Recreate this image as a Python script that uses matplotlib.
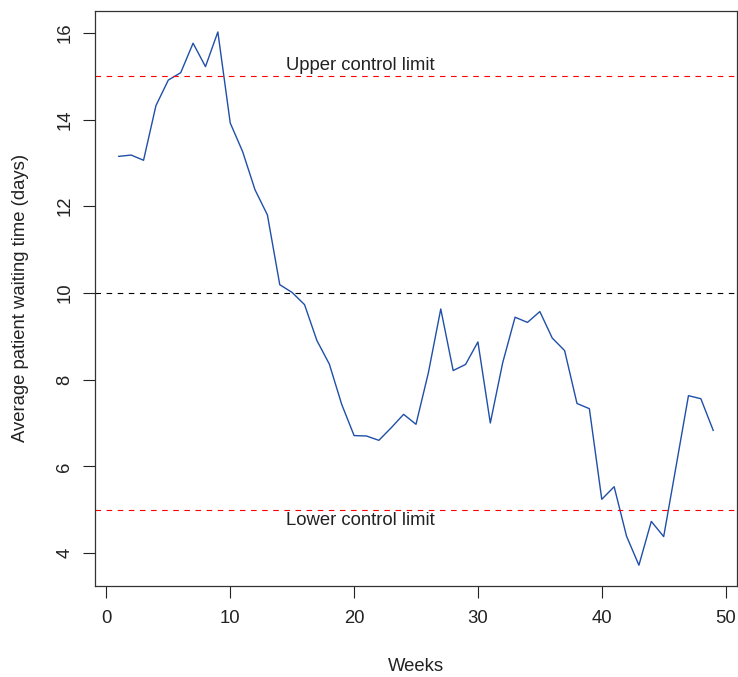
"""Control chart: average patient waiting time per week."""

import matplotlib
matplotlib.use("Agg")
import matplotlib.pyplot as plt
import matplotlib as mpl

mpl.rcParams.update({
    "font.family": ["Liberation Sans", "DejaVu Sans"],
    "font.size": 13.3,
    "text.color": "#222222",
    "axes.labelcolor": "#222222",
    "xtick.color": "#222222",
    "ytick.color": "#222222",
})

weeks = list(range(1, 50))
wait_days = [
    13.15, 13.18, 13.06, 14.32, 14.91, 15.08, 15.76, 15.22, 16.02, 13.92,
    13.26, 12.38, 11.80, 10.19, 10.01, 9.73, 8.90, 8.36, 7.43, 6.71,
    6.70, 6.60, 6.89, 7.20, 6.97, 8.16, 9.63, 8.21, 8.35, 8.87,
    7.00, 8.39, 9.44, 9.32, 9.57, 8.96, 8.67, 7.45, 7.33, 5.24,
    5.53, 4.39, 3.72, 4.73, 4.38, 6.00, 7.63, 7.56, 6.83,
]

centre_line = 10
upper_limit = 15
lower_limit = 5

fig = plt.figure(figsize=(7.38, 6.77), dpi=100)
ax = fig.add_axes([95 / 738, 1 - 586 / 677, 642 / 738, 575.3 / 677])

ax.plot(weeks, wait_days, color="#1f4fa8", linewidth=1.0)

dash = (0, (5, 5))
ax.axhline(centre_line, color="black", linewidth=0.8, linestyle=dash)
ax.axhline(upper_limit, color="red", linewidth=0.8, linestyle=dash)
ax.axhline(lower_limit, color="red", linewidth=0.8, linestyle=dash)

ax.text(20.5, 15.25, "Upper control limit", ha="center", va="center")
ax.text(20.5, 4.76, "Lower control limit", ha="center", va="center")

# R-style padded limits (4% each side)
ax.set_xlim(-0.92, 50.92)
ax.set_ylim(3.24, 16.51)
ax.set_xticks([0, 10, 20, 30, 40, 50])
ax.set_yticks([4, 6, 8, 10, 12, 14, 16])
ax.tick_params(axis="both", length=8.5, width=0.8, direction="out")
ax.tick_params(axis="x", pad=9)
ax.tick_params(axis="y", pad=7)
for lab in ax.get_yticklabels():
    lab.set_rotation(90)
    lab.set_va("center")

for sp in ax.spines.values():
    sp.set_linewidth(0.9)
    sp.set_color("#333333")

ax.set_xlabel("Weeks", labelpad=22)
ax.set_ylabel("Average patient waiting time (days)", labelpad=20)

fig.savefig("out.png", dpi=100)
